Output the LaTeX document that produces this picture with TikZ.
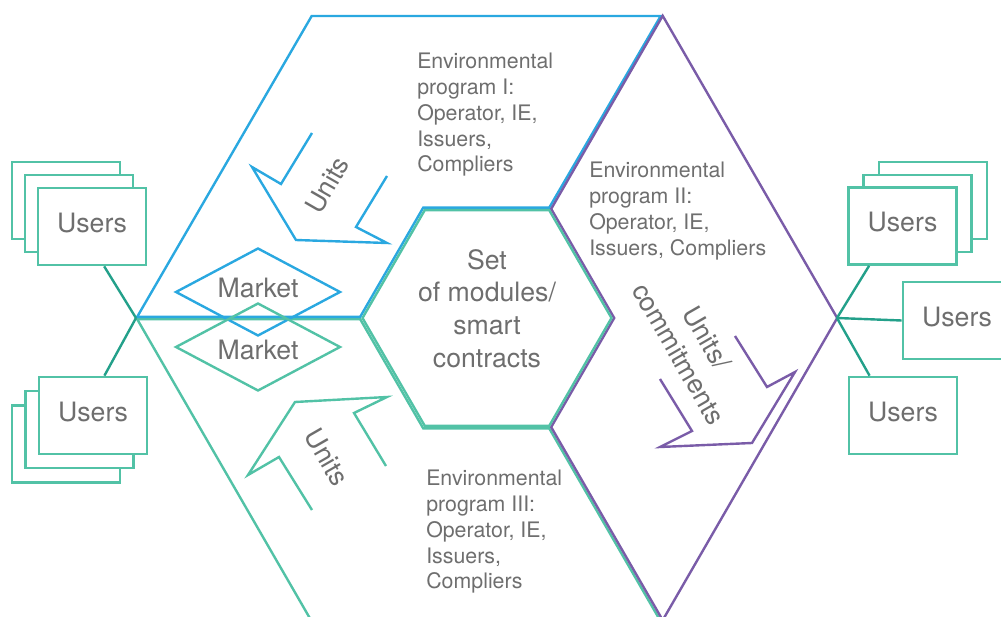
\documentclass[tikz,border=0pt]{standalone}
\usepackage{fontspec}
\setmainfont{TeX Gyre Heros}
\usetikzlibrary{shapes.geometric}
\definecolor{progblue}{HTML}{2AA8E0}
\definecolor{progmint}{HTML}{52C2A6}
\definecolor{progviolet}{HTML}{7A5CA8}
\definecolor{linkteal}{HTML}{23A08A}
\definecolor{txtgray}{HTML}{6E6E6E}
\tikzset{
  sector/.style={draw=#1, line width=1.8pt},
  users/.style={draw=progmint, fill=white, line width=2pt, minimum width=81pt, minimum height=57.75pt,
    inner sep=0pt, text depth=6pt, text=txtgray, font=\fontsize{20pt}{24pt}\selectfont},
  market/.style={diamond, aspect=2, draw=#1, line width=1.8pt, minimum width=123.75pt, minimum height=66pt,
    inner sep=0pt, text=txtgray, font=\fontsize{20pt}{24pt}\selectfont},
  link/.style={draw=linkteal, line width=1.8pt},
  lbl/.style={text=txtgray, inner sep=0pt, font=\fontsize{20pt}{24.4pt}\selectfont},
  prog/.style={text=txtgray, inner sep=0pt, anchor=north west, align=left, font=\fontsize{16pt}{19.3pt}\selectfont}
}
\begin{document}
\begin{tikzpicture}[x=0.75pt,y=-0.75pt]
  \useasboundingbox (0,0) rectangle (1001,617);
  % the three programs round the core
  \draw[sector=progmint, shift={(-0.8,1.2)}] (661.5,620.2) -- (312.5,620.2) -- (138,318) -- (361,318) -- (424,427.1) -- (550,427.1) -- cycle;% program III
  \draw[sector=progblue, shift={(-0.8,-1.2)}] (138,318) -- (312.5,17.2) -- (661.5,17.2) -- (550,208.9) -- (424,208.9) -- (361,318) -- cycle;% program I
  \draw[sector=progviolet, shift={(1.2,0)}] (661.5,15.8) -- (836,318) -- (661.5,620.2) -- (550,427.1) -- (613,318) -- (550,208.9) -- cycle;% program II
  \draw[sector=progmint] (611.5,318) -- (549.25,210.18) -- (424.75,210.18) -- (362.5,318) -- (424.75,425.82) -- (549.25,425.82) -- cycle;% core

  \node[lbl, align=center] (core) at (487,308.5) {Set\\of modules/\\smart\\contracts};

  \coordinate (hubL) at (136,318);
  \coordinate (hubR) at (837,318);

  % markets
  \node[market=progblue, text depth=6pt] (mktA) at (258,292) {Market};
  \node[market=progmint, text height=18.9pt] (mktB) at (258,347) {Market};

  % flows of units
  \draw[sector=progblue] (312,133) -- (281,184) -- (252,167) -- (296,240) -- (387,243) -- (356,227) -- (387,176);
  \draw[sector=progmint] (312,510) -- (279,457) -- (248,475) -- (295,402) -- (387,397) -- (354,413) -- (386,466);
  \draw[sector=progviolet] (735,336) -- (767,387) -- (795,372) -- (752,443) -- (660,447) -- (692,431) -- (660,379);
  \node[lbl, rotate=60] (unitsI) at (327,185) {Units};
  \node[lbl, rotate=-60] (unitsIII) at (327,457) {Units};
  \node[lbl, rotate=-60, align=center] (unitsII) at (693,346) {Units/\\commitments};

  % users, left
  \node[users] (uL3) at (66,200.5) {};
  \node[users] (uL2) at (79,213.5) {};
  \node[users] (uL) at (92,226.5) {Users};
  \node[users] (lL3) at (66,444) {};
  \node[users] (lL2) at (79.5,429.5) {};
  \node[users] (lL) at (93,415.5) {Users};
  % users, right
  \node[users] (uR3) at (933,200.5) {};
  \node[users] (uR2) at (917.5,213.5) {};
  \node[users] (uR) at (902.5,226) {Users};
  \node[users] (mR) at (957,320.5) {Users};
  \node[users] (lR) at (903,415.5) {Users};

  \draw[link] (hubL) -- (uL.-73);
  \draw[link] (hubL) -- (lL.74);
  \draw[link] (hubR) -- (uR.-130);
  \draw[link] (hubR) -- (mR.west);
  \draw[link] (hubR) -- (lR.130);

  % program texts
  \node[prog] (progI) at (417,53) {Environmental\\program I:\\Operator, IE,\\Issuers,\\Compliers};
  \node[prog] (progII) at (589,162) {Environmental\\program II:\\Operator, IE,\\Issuers, Compliers};
  \node[prog] (progIII) at (426,470) {Environmental\\program III:\\Operator, IE,\\Issuers,\\Compliers};
\end{tikzpicture}
\end{document}
